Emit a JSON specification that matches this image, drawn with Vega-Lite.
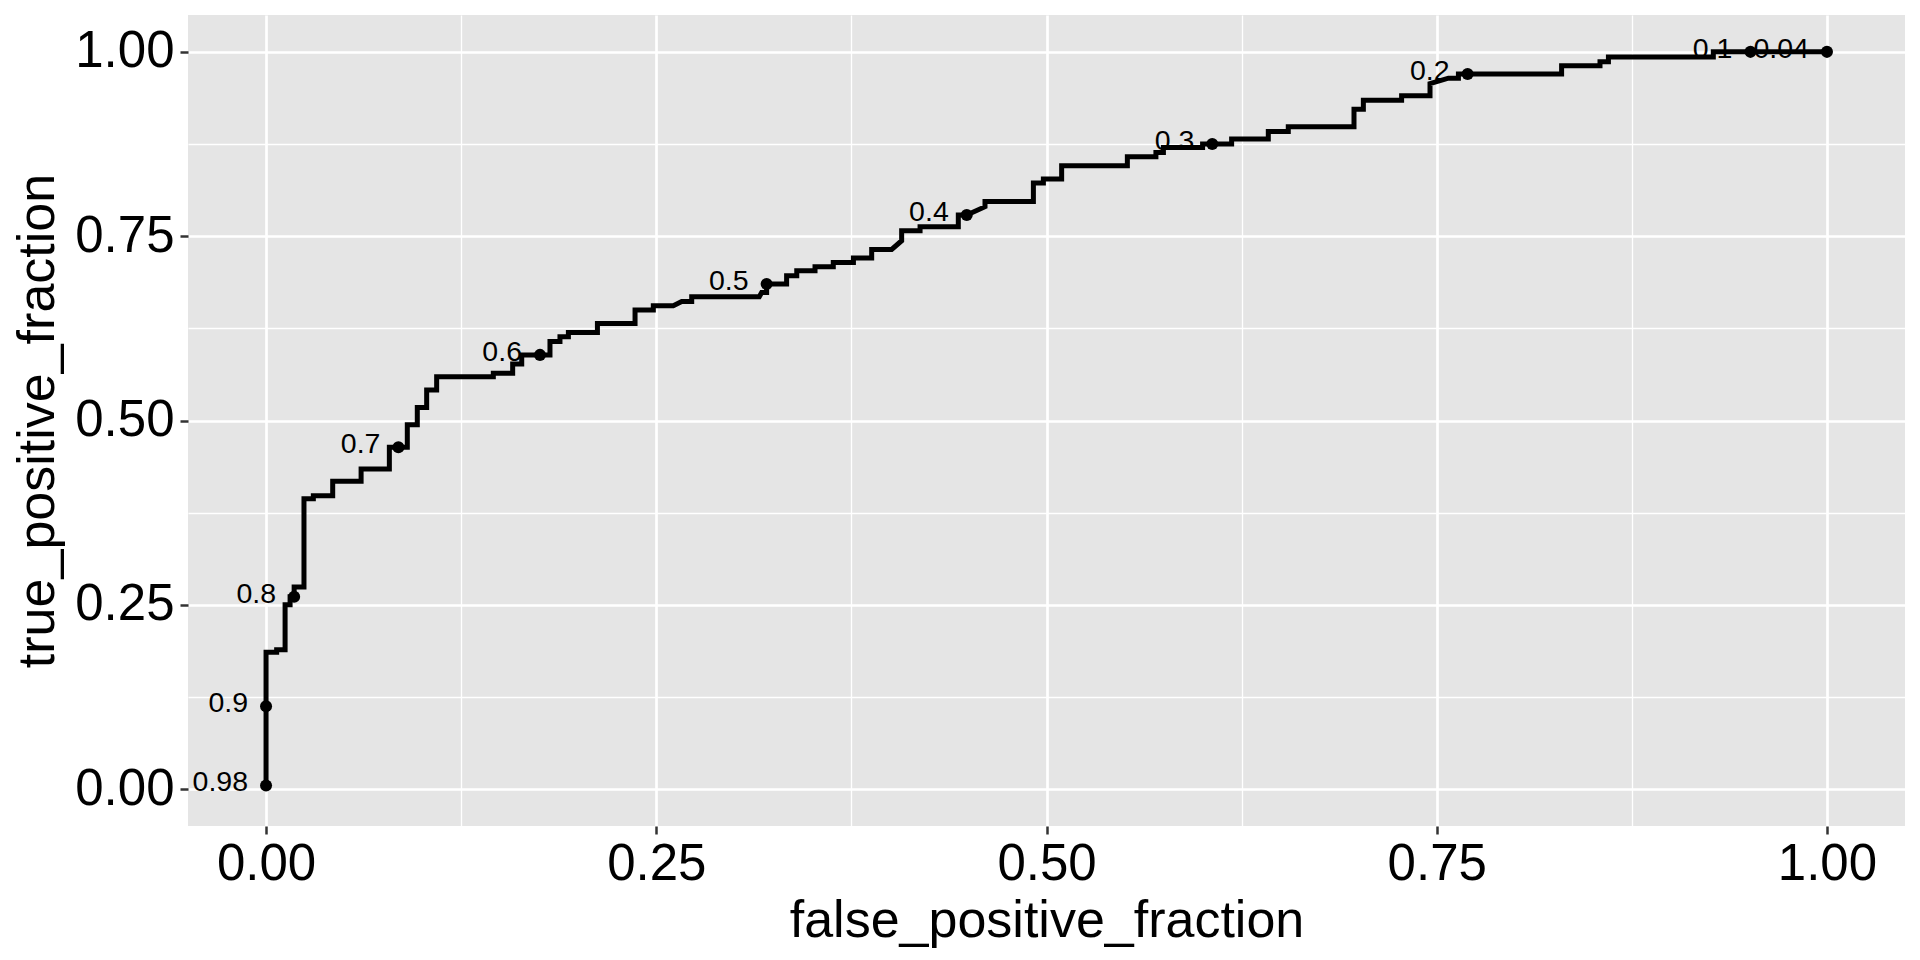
{
  "$schema": "https://vega.github.io/schema/vega-lite/v6.json",
  "width": 1717,
  "height": 811,
  "autosize": {"type": "none"},
  "padding": {"left": 188, "top": 15, "right": 15, "bottom": 134},
  "background": "white",
  "config": {
    "view": {"stroke": null, "fill": "#E5E5E5"},
    "axis": {
      "domain": false,
      "labelFont": "Liberation Sans",
      "labelFontSize": 51,
      "labelColor": "#000000",
      "tickColor": "#333333",
      "tickSize": 8,
      "tickWidth": 2.5,
      "gridColor": "#FFFFFF",
      "titleFont": "Liberation Sans",
      "titleFontSize": 52,
      "titleFontWeight": "normal",
      "titleColor": "#000000"
    }
  },
  "datasets": {
    "curve": [
      {"i": 1, "fpf": 0, "tpf": 0},
      {"i": 2, "fpf": 0, "tpf": 0.1857},
      {"i": 3, "fpf": 0.0068, "tpf": 0.1857},
      {"i": 4, "fpf": 0.0068, "tpf": 0.189},
      {"i": 5, "fpf": 0.0122, "tpf": 0.189},
      {"i": 6, "fpf": 0.0122, "tpf": 0.25},
      {"i": 7, "fpf": 0.0154, "tpf": 0.25},
      {"i": 8, "fpf": 0.0154, "tpf": 0.261},
      {"i": 9, "fpf": 0.018, "tpf": 0.261},
      {"i": 10, "fpf": 0.018, "tpf": 0.274},
      {"i": 11, "fpf": 0.0243, "tpf": 0.274},
      {"i": 12, "fpf": 0.0243, "tpf": 0.3937},
      {"i": 13, "fpf": 0.0303, "tpf": 0.3937},
      {"i": 14, "fpf": 0.0303, "tpf": 0.398},
      {"i": 15, "fpf": 0.0427, "tpf": 0.398},
      {"i": 16, "fpf": 0.0427, "tpf": 0.4176},
      {"i": 17, "fpf": 0.0609, "tpf": 0.4176},
      {"i": 18, "fpf": 0.0609, "tpf": 0.4343},
      {"i": 19, "fpf": 0.079, "tpf": 0.4343},
      {"i": 20, "fpf": 0.079, "tpf": 0.4636},
      {"i": 21, "fpf": 0.0905, "tpf": 0.4636},
      {"i": 22, "fpf": 0.0905, "tpf": 0.4944},
      {"i": 23, "fpf": 0.0969, "tpf": 0.4944},
      {"i": 24, "fpf": 0.0969, "tpf": 0.5178},
      {"i": 25, "fpf": 0.1029, "tpf": 0.5178},
      {"i": 26, "fpf": 0.1029, "tpf": 0.5414},
      {"i": 27, "fpf": 0.1093, "tpf": 0.5414},
      {"i": 28, "fpf": 0.1093, "tpf": 0.5594},
      {"i": 29, "fpf": 0.1456, "tpf": 0.5594},
      {"i": 30, "fpf": 0.1456, "tpf": 0.564},
      {"i": 31, "fpf": 0.158, "tpf": 0.564},
      {"i": 32, "fpf": 0.158, "tpf": 0.5767},
      {"i": 33, "fpf": 0.1638, "tpf": 0.5767},
      {"i": 34, "fpf": 0.1638, "tpf": 0.589},
      {"i": 35, "fpf": 0.1819, "tpf": 0.589},
      {"i": 36, "fpf": 0.1819, "tpf": 0.6073},
      {"i": 37, "fpf": 0.1883, "tpf": 0.6073},
      {"i": 38, "fpf": 0.1883, "tpf": 0.6137},
      {"i": 39, "fpf": 0.1937, "tpf": 0.6137},
      {"i": 40, "fpf": 0.1937, "tpf": 0.6195},
      {"i": 41, "fpf": 0.2123, "tpf": 0.6195},
      {"i": 42, "fpf": 0.2123, "tpf": 0.6317},
      {"i": 43, "fpf": 0.2364, "tpf": 0.6317},
      {"i": 44, "fpf": 0.2364, "tpf": 0.6499},
      {"i": 45, "fpf": 0.2481, "tpf": 0.6499},
      {"i": 46, "fpf": 0.2481, "tpf": 0.6557},
      {"i": 47, "fpf": 0.2609, "tpf": 0.6557},
      {"i": 48, "fpf": 0.2663, "tpf": 0.6615},
      {"i": 49, "fpf": 0.2727, "tpf": 0.6615},
      {"i": 50, "fpf": 0.2727, "tpf": 0.6679},
      {"i": 51, "fpf": 0.316, "tpf": 0.6679},
      {"i": 52, "fpf": 0.3175, "tpf": 0.6737},
      {"i": 53, "fpf": 0.3207, "tpf": 0.6737},
      {"i": 54, "fpf": 0.3207, "tpf": 0.685},
      {"i": 55, "fpf": 0.3335, "tpf": 0.685},
      {"i": 56, "fpf": 0.3335, "tpf": 0.6964},
      {"i": 57, "fpf": 0.34, "tpf": 0.6964},
      {"i": 58, "fpf": 0.34, "tpf": 0.7031},
      {"i": 59, "fpf": 0.3517, "tpf": 0.7031},
      {"i": 60, "fpf": 0.3517, "tpf": 0.7086},
      {"i": 61, "fpf": 0.3634, "tpf": 0.7086},
      {"i": 62, "fpf": 0.3634, "tpf": 0.7144},
      {"i": 63, "fpf": 0.3763, "tpf": 0.7144},
      {"i": 64, "fpf": 0.3763, "tpf": 0.7204},
      {"i": 65, "fpf": 0.388, "tpf": 0.7204},
      {"i": 66, "fpf": 0.388, "tpf": 0.732},
      {"i": 67, "fpf": 0.4008, "tpf": 0.732},
      {"i": 68, "fpf": 0.4072, "tpf": 0.7438},
      {"i": 69, "fpf": 0.4072, "tpf": 0.7574},
      {"i": 70, "fpf": 0.419, "tpf": 0.7574},
      {"i": 71, "fpf": 0.419, "tpf": 0.7628},
      {"i": 72, "fpf": 0.4435, "tpf": 0.7628},
      {"i": 73, "fpf": 0.4435, "tpf": 0.7786},
      {"i": 74, "fpf": 0.4489, "tpf": 0.7786},
      {"i": 75, "fpf": 0.4606, "tpf": 0.7899},
      {"i": 76, "fpf": 0.4606, "tpf": 0.7971},
      {"i": 77, "fpf": 0.4916, "tpf": 0.7971},
      {"i": 78, "fpf": 0.4916, "tpf": 0.822},
      {"i": 79, "fpf": 0.498, "tpf": 0.822},
      {"i": 80, "fpf": 0.498, "tpf": 0.8274},
      {"i": 81, "fpf": 0.5097, "tpf": 0.8274},
      {"i": 82, "fpf": 0.5097, "tpf": 0.8455},
      {"i": 83, "fpf": 0.5518, "tpf": 0.8455},
      {"i": 84, "fpf": 0.5518, "tpf": 0.8577},
      {"i": 85, "fpf": 0.5701, "tpf": 0.8577},
      {"i": 86, "fpf": 0.5701, "tpf": 0.8635},
      {"i": 87, "fpf": 0.5749, "tpf": 0.8635},
      {"i": 88, "fpf": 0.5749, "tpf": 0.8703},
      {"i": 89, "fpf": 0.6, "tpf": 0.8703},
      {"i": 90, "fpf": 0.6, "tpf": 0.875},
      {"i": 91, "fpf": 0.6186, "tpf": 0.875},
      {"i": 92, "fpf": 0.6186, "tpf": 0.8817},
      {"i": 93, "fpf": 0.6421, "tpf": 0.8817},
      {"i": 94, "fpf": 0.6421, "tpf": 0.892},
      {"i": 95, "fpf": 0.6549, "tpf": 0.892},
      {"i": 96, "fpf": 0.6549, "tpf": 0.8983},
      {"i": 97, "fpf": 0.697, "tpf": 0.8983},
      {"i": 98, "fpf": 0.697, "tpf": 0.9223},
      {"i": 99, "fpf": 0.703, "tpf": 0.9223},
      {"i": 100, "fpf": 0.703, "tpf": 0.9345},
      {"i": 101, "fpf": 0.7275, "tpf": 0.9345},
      {"i": 102, "fpf": 0.7275, "tpf": 0.9404},
      {"i": 103, "fpf": 0.7457, "tpf": 0.9404},
      {"i": 104, "fpf": 0.7457, "tpf": 0.957},
      {"i": 105, "fpf": 0.7575, "tpf": 0.9643},
      {"i": 106, "fpf": 0.7639, "tpf": 0.9643},
      {"i": 107, "fpf": 0.7639, "tpf": 0.9701},
      {"i": 108, "fpf": 0.83, "tpf": 0.9701},
      {"i": 109, "fpf": 0.83, "tpf": 0.981},
      {"i": 110, "fpf": 0.8546, "tpf": 0.981},
      {"i": 111, "fpf": 0.8546, "tpf": 0.9865},
      {"i": 112, "fpf": 0.86, "tpf": 0.9865},
      {"i": 113, "fpf": 0.86, "tpf": 0.9932},
      {"i": 114, "fpf": 0.9272, "tpf": 0.9932},
      {"i": 115, "fpf": 0.9272, "tpf": 1},
      {"i": 116, "fpf": 1, "tpf": 1}
    ],
    "cuts": [
      {"label": "0.98", "fpf": 0, "tpf": 0.005},
      {"label": "0.9", "fpf": 0, "tpf": 0.1125},
      {"label": "0.8", "fpf": 0.018, "tpf": 0.261},
      {"label": "0.7", "fpf": 0.0848, "tpf": 0.4636},
      {"label": "0.6", "fpf": 0.1755, "tpf": 0.589},
      {"label": "0.5", "fpf": 0.3207, "tpf": 0.685},
      {"label": "0.4", "fpf": 0.4489, "tpf": 0.7786},
      {"label": "0.3", "fpf": 0.6062, "tpf": 0.875},
      {"label": "0.2", "fpf": 0.7698, "tpf": 0.97},
      {"label": "0.1", "fpf": 0.951, "tpf": 1},
      {"label": "0.04", "fpf": 1, "tpf": 1}
    ]
  },
  "layer": [
    {
      "data": {"name": "curve"},
      "mark": {"type": "line", "color": "#000000", "strokeWidth": 5, "strokeJoin": "miter", "strokeCap": "butt"},
      "encoding": {
        "x": {
          "field": "fpf", "type": "quantitative",
          "scale": {"domain": [-0.05, 1.05], "nice": false, "zero": false},
          "axis": {"orient": "bottom", "title": "false_positive_fraction", "values": [0, 0.25, 0.5, 0.75, 1], "format": ".2f", "grid": true, "gridWidth": 2.7, "labelPadding": 5, "titlePadding": 6}
        },
        "y": {
          "field": "tpf", "type": "quantitative",
          "scale": {"domain": [-0.05, 1.05], "nice": false, "zero": false},
          "axis": {"orient": "left", "title": "true_positive_fraction", "values": [0, 0.25, 0.5, 0.75, 1], "format": ".2f", "grid": true, "gridWidth": 2.7, "labelPadding": 6, "titlePadding": 10}
        },
        "order": {"field": "i", "type": "quantitative"}
      }
    },
    {
      "data": {"name": "cuts"},
      "mark": {"type": "circle", "color": "#000000", "opacity": 1, "size": 145},
      "encoding": {
        "x": {
          "field": "fpf", "type": "quantitative",
          "axis": {"orient": "top", "title": null, "values": [0.125, 0.375, 0.625, 0.875], "labels": false, "ticks": false, "domain": false, "grid": true, "gridWidth": 1.35}
        },
        "y": {
          "field": "tpf", "type": "quantitative",
          "axis": {"orient": "right", "title": null, "values": [0.125, 0.375, 0.625, 0.875], "labels": false, "ticks": false, "domain": false, "grid": true, "gridWidth": 1.35}
        }
      }
    },
    {
      "data": {"name": "cuts"},
      "mark": {"type": "text", "font": "Liberation Sans", "fontSize": 28.5, "color": "#000000", "align": "right", "baseline": "middle", "dx": -18, "dy": -3},
      "encoding": {
        "x": {"field": "fpf", "type": "quantitative", "axis": null},
        "y": {"field": "tpf", "type": "quantitative", "axis": null},
        "text": {"field": "label", "type": "nominal"}
      }
    }
  ],
  "resolve": {"axis": {"x": "independent", "y": "independent"}}
}
